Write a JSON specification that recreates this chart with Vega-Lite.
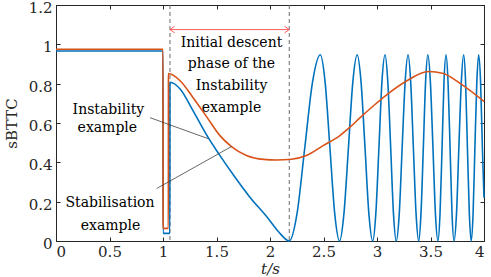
{
  "$schema": "https://vega.github.io/schema/vega-lite/v6.json",
  "width": 428,
  "height": 236,
  "autosize": {"type": "none"},
  "padding": {"left": 56, "top": 5, "right": 7, "bottom": 36},
  "background": "white",
  "config": {
    "view": {"stroke": "#262626", "strokeWidth": 1},
    "font": "DejaVu Serif",
    "axis": {
      "grid": false,
      "domainColor": "#262626",
      "tickColor": "#262626",
      "labelColor": "#262626",
      "titleColor": "#262626",
      "labelFont": "DejaVu Serif",
      "titleFont": "DejaVu Serif",
      "labelFontSize": 15,
      "titleFontSize": 15,
      "titleFontWeight": "normal",
      "tickSize": -4,
      "tickWidth": 1,
      "domainWidth": 1
    }
  },
  "datasets": {
    "blue": [
      {"t": 0, "v": 0.966}, {"t": 1.0, "v": 0.966}, {"t": 1.001, "v": 0.039}, {"t": 1.064, "v": 0.039},
      {"t": 1.065, "v": 0.807}, {"t": 1.16, "v": 0.773}, {"t": 1.28, "v": 0.663}, {"t": 1.42, "v": 0.528},
      {"t": 1.52, "v": 0.444}, {"t": 1.66, "v": 0.334}, {"t": 1.81, "v": 0.224}, {"t": 1.97, "v": 0.123},
      {"t": 2.08, "v": 0.047}, {"t": 2.18, "v": 0},
      {"t": 2.2525, "v": 0.139}, {"t": 2.325, "v": 0.474}, {"t": 2.3975, "v": 0.808}, {"t": 2.47, "v": 0.947},
      {"t": 2.515, "v": 0.808}, {"t": 2.56, "v": 0.474}, {"t": 2.605, "v": 0.139}, {"t": 2.65, "v": 0},
      {"t": 2.691, "v": 0.139}, {"t": 2.733, "v": 0.474}, {"t": 2.774, "v": 0.808}, {"t": 2.815, "v": 0.947},
      {"t": 2.851, "v": 0.808}, {"t": 2.888, "v": 0.474}, {"t": 2.924, "v": 0.139}, {"t": 2.96, "v": 0},
      {"t": 2.989, "v": 0.139}, {"t": 3.018, "v": 0.474}, {"t": 3.046, "v": 0.808}, {"t": 3.075, "v": 0.947},
      {"t": 3.101, "v": 0.808}, {"t": 3.128, "v": 0.474}, {"t": 3.154, "v": 0.139}, {"t": 3.18, "v": 0},
      {"t": 3.208, "v": 0.139}, {"t": 3.235, "v": 0.474}, {"t": 3.263, "v": 0.808}, {"t": 3.29, "v": 0.947},
      {"t": 3.315, "v": 0.808}, {"t": 3.34, "v": 0.474}, {"t": 3.365, "v": 0.139}, {"t": 3.39, "v": 0},
      {"t": 3.411, "v": 0.139}, {"t": 3.433, "v": 0.474}, {"t": 3.454, "v": 0.808}, {"t": 3.475, "v": 0.947},
      {"t": 3.499, "v": 0.808}, {"t": 3.523, "v": 0.474}, {"t": 3.546, "v": 0.139}, {"t": 3.57, "v": 0},
      {"t": 3.589, "v": 0.139}, {"t": 3.608, "v": 0.474}, {"t": 3.626, "v": 0.808}, {"t": 3.645, "v": 0.947},
      {"t": 3.664, "v": 0.808}, {"t": 3.683, "v": 0.474}, {"t": 3.701, "v": 0.139}, {"t": 3.72, "v": 0},
      {"t": 3.743, "v": 0.139}, {"t": 3.765, "v": 0.474}, {"t": 3.788, "v": 0.808}, {"t": 3.81, "v": 0.947},
      {"t": 3.828, "v": 0.808}, {"t": 3.845, "v": 0.474}, {"t": 3.863, "v": 0.139}, {"t": 3.88, "v": 0},
      {"t": 3.898, "v": 0.139}, {"t": 3.915, "v": 0.474}, {"t": 3.933, "v": 0.808}, {"t": 3.95, "v": 0.947},
      {"t": 3.968, "v": 0.808}, {"t": 3.985, "v": 0.474}, {"t": 4.0, "v": 0.22}
    ],
    "orange": [
      {"t": 0, "v": 0.975}, {"t": 1.0, "v": 0.975}, {"t": 1.001, "v": 0.064}, {"t": 1.05, "v": 0.064},
      {"t": 1.051, "v": 0.852}, {"t": 1.16, "v": 0.815}, {"t": 1.28, "v": 0.73}, {"t": 1.41, "v": 0.63},
      {"t": 1.53, "v": 0.537}, {"t": 1.64, "v": 0.48}, {"t": 1.78, "v": 0.435}, {"t": 1.94, "v": 0.415},
      {"t": 2.06, "v": 0.412}, {"t": 2.2, "v": 0.416}, {"t": 2.34, "v": 0.435}, {"t": 2.5, "v": 0.486},
      {"t": 2.65, "v": 0.535}, {"t": 2.75, "v": 0.58}, {"t": 2.84, "v": 0.626}, {"t": 2.97, "v": 0.689},
      {"t": 3.12, "v": 0.756}, {"t": 3.28, "v": 0.815}, {"t": 3.48, "v": 0.862}, {"t": 3.62, "v": 0.852},
      {"t": 3.78, "v": 0.8}, {"t": 4.0, "v": 0.71}
    ],
    "vlines": [{"t": 1.065}, {"t": 2.18}],
    "span": [{"t": 1.065, "t2": 2.18, "v": 1.075}],
    "ends": [{"end": "left", "t": 1.065, "v": 1.075}, {"end": "right", "t": 2.18, "v": 1.075}],
    "connectors": [
      {"t": 0.879, "v": 0.627, "t2": 1.424, "v2": 0.52},
      {"t": 0.941, "v": 0.267, "t2": 1.642, "v2": 0.481}
    ],
    "labels": [
      {"text": "Initial descent", "t": 1.64, "v": 0.987},
      {"text": "phase of the", "t": 1.64, "v": 0.878},
      {"text": "Instability", "t": 1.64, "v": 0.767},
      {"text": "example", "t": 1.64, "v": 0.656},
      {"text": "Instability", "t": 0.49, "v": 0.648},
      {"text": "example", "t": 0.48, "v": 0.553},
      {"text": "Stabilisation", "t": 0.505, "v": 0.174},
      {"text": "example", "t": 0.51, "v": 0.056}
    ]
  },
  "layer": [
    {
      "data": {"name": "vlines"},
      "mark": {"type": "rule", "color": "#6b6b6b", "strokeWidth": 1, "strokeDash": [4, 3]},
      "encoding": {
        "x": {"field": "t", "type": "quantitative", "scale": {"domain": [0, 4]}, "axis": null}
      }
    },
    {
      "data": {"name": "blue"},
      "mark": {"type": "line", "color": "#0072BD", "strokeWidth": 1.6, "interpolate": "monotone"},
      "encoding": {
        "x": {"field": "t", "type": "quantitative", "scale": {"domain": [0, 4]},
              "axis": {"title": "t/s", "titleFontStyle": "italic", "values": [0, 0.5, 1, 1.5, 2, 2.5, 3, 3.5, 4], "format": "~g", "labelPadding": 7, "titlePadding": 2}},
        "y": {"field": "v", "type": "quantitative", "scale": {"domain": [0, 1.2]},
              "axis": {"title": "sBTTC", "values": [0, 0.2, 0.4, 0.6, 0.8, 1, 1.2], "format": "~g", "labelPadding": 8, "labelOffset": 2.5, "titlePadding": 9}}
      }
    },
    {
      "data": {"name": "orange"},
      "mark": {"type": "line", "color": "#D95319", "strokeWidth": 1.6, "interpolate": "monotone"},
      "encoding": {
        "x": {"field": "t", "type": "quantitative",
              "axis": {"orient": "top", "title": null, "labels": false, "values": [0, 0.5, 1, 1.5, 2, 2.5, 3, 3.5, 4]}},
        "y": {"field": "v", "type": "quantitative",
              "axis": {"orient": "right", "title": null, "labels": false, "values": [0, 0.2, 0.4, 0.6, 0.8, 1, 1.2]}}
      }
    },
    {
      "data": {"name": "connectors"},
      "mark": {"type": "rule", "color": "#404040", "strokeWidth": 0.8},
      "encoding": {
        "x": {"field": "t", "type": "quantitative", "axis": null},
        "y": {"field": "v", "type": "quantitative", "axis": null},
        "x2": {"field": "t2"},
        "y2": {"field": "v2"}
      }
    },
    {
      "data": {"name": "span"},
      "mark": {"type": "rule", "color": "#FF5C5C", "strokeWidth": 1},
      "encoding": {
        "x": {"field": "t", "type": "quantitative", "axis": null},
        "x2": {"field": "t2"},
        "y": {"field": "v", "type": "quantitative", "axis": null}
      }
    },
    {
      "data": {"name": "ends"},
      "transform": [{"filter": "datum.end == 'left'"}],
      "mark": {"type": "point", "shape": "M1,-0.7L0,0L1,0.7", "filled": false, "color": "#FF5C5C", "size": 90, "strokeWidth": 1, "opacity": 1},
      "encoding": {
        "x": {"field": "t", "type": "quantitative", "axis": null},
        "y": {"field": "v", "type": "quantitative", "axis": null}
      }
    },
    {
      "data": {"name": "ends"},
      "transform": [{"filter": "datum.end == 'right'"}],
      "mark": {"type": "point", "shape": "M-1,-0.7L0,0L-1,0.7", "filled": false, "color": "#FF5C5C", "size": 90, "strokeWidth": 1, "opacity": 1},
      "encoding": {
        "x": {"field": "t", "type": "quantitative", "axis": null},
        "y": {"field": "v", "type": "quantitative", "axis": null}
      }
    },
    {
      "data": {"name": "labels"},
      "mark": {"type": "text", "font": "DejaVu Serif", "fontSize": 14, "color": "#000000", "align": "center", "baseline": "alphabetic"},
      "encoding": {
        "x": {"field": "t", "type": "quantitative", "axis": null},
        "y": {"field": "v", "type": "quantitative", "axis": null},
        "text": {"field": "text"}
      }
    }
  ],
  "resolve": {"axis": {"x": "independent", "y": "independent"}}
}
